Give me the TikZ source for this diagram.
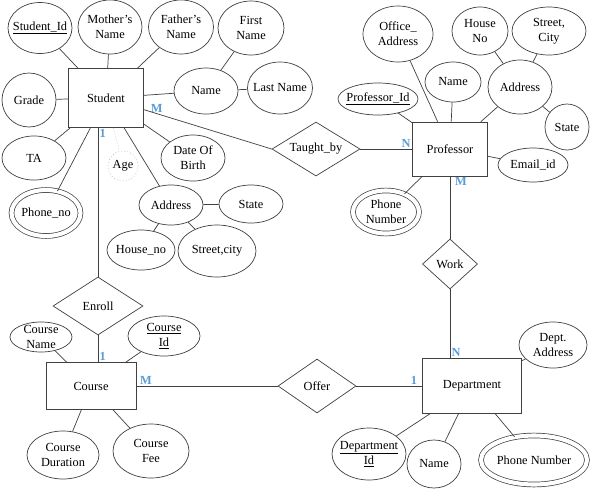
\documentclass[tikz,border=0pt]{standalone}
\usepackage{fontspec}
\setmainfont{Liberation Serif}
\usetikzlibrary{shapes.geometric}
\definecolor{cardblue}{HTML}{5B9BD5}
\definecolor{linegray}{HTML}{404040}

\newdimen\pxu
\pxu=0.85pt

\begin{document}
\begin{tikzpicture}[
    x = 0.85pt,
    y = -0.85pt,
    semithick,
    color = linegray,
    text = black,
    font = \fontsize{10.5}{13}\selectfont,
    entity/.style args = {#1/#2}{rectangle, draw, inner sep = 0pt,
        minimum width = #1\pxu, minimum height = #2\pxu},
    attr/.style args = {#1/#2}{ellipse, draw, inner sep = 0pt,
        minimum width = #1\pxu, minimum height = #2\pxu},
    multi/.style = {double, double distance = 3.5pt},
    derived/.style = {dotted, draw = gray!60},
    rel/.style args = {#1/#2}{diamond, draw, inner sep = 0pt, aspect = 1.5,
        minimum width = #1\pxu, minimum height = #2\pxu},
    card/.style = {text = cardblue, font = \fontsize{10.5}{13}\selectfont\bfseries,
        inner sep = 1pt}
]

\useasboundingbox (0,0) rectangle (590,490);

% Entities
\node[entity=75/59] (stu)  at (106,98)  {Student};
\node[entity=75/54] (prof) at (450,149) {Professor};
\node[entity=90/47] (crs)  at (91,386)  {Course};
\node[entity=99/55] (dep)  at (472,386) {Department};

% Relationships
\node[rel=88/54] (tb)  at (316,149) {Taught\_by};
\node[rel=90/58] (enr) at (98,306)  {Enroll};
\node[rel=55/50] (wrk) at (450,264) {Work};
\node[rel=78/54] (off) at (317,386) {Offer};

% Student attributes
\node[attr=64/51, label={center:\underline{Student\_Id}}]            (sid)    at (40,28)   {};
\node[attr=64/54, label={[align=center]center:Mother's\\Name}]       (smn)    at (110,27)  {};
\node[attr=65/54, label={[align=center]center:Father's\\Name}]       (sfn)    at (181,27)  {};
\node[attr=66/54, label={[align=center]center:First\\Name}]          (sfirst) at (251,28)  {};
\node[attr=64/46, label={center:Name}]                               (sname)  at (206,91)  {};
\node[attr=65/52, label={center:Last Name}]                          (slast)  at (280,88)  {};
\node[attr=54/54, label={center:Grade}]                              (sgr)    at (29,100)  {};
\node[attr=64/44, label={center:TA}]                                 (sta)    at (34,158)  {};
\node[attr=69/46, multi, label={center:Phone\_no}]                   (sph)    at (46,213)  {};
\node[attr=30/30, derived, label={center:Age}]                       (sage)   at (123,166) {};
\node[attr=64/46, label={[align=center]center:Date Of\\Birth}]       (sdob)   at (193,158) {};
\node[attr=64/40, label={center:Address}]                            (sadd)   at (171,205) {};
\node[attr=64/38, label={center:State}]                              (sst)    at (251,204) {};
\node[attr=68/40, label={center:House\_no}]                          (shn)    at (141,250) {};
\node[attr=78/52, label={center:Street,city}]                        (ssc)    at (217,251) {};

% Course attributes
\node[attr=62/30, label={[align=center]center:Course\\Name}]         (ccn)  at (41,337)  {};
\node[attr=72/40, label={[align=center]center:\underline{Course}\\\underline{Id}}] (cid) at (164,336) {};
\node[attr=72/48, label={[align=center]center:Course\\Duration}]     (cdu)  at (63,455)  {};
\node[attr=76/54, label={[align=center]center:Course\\Fee}]          (cfee) at (151,451) {};

% Professor attributes
\node[attr=70/56, label={[align=center]center:Office\_\\Address}]    (poa)   at (398,34)  {};
\node[attr=56/48, label={[align=center]center:House\\No}]            (phn)   at (480,31)  {};
\node[attr=74/48, label={[align=center]center:Street,\\City}]        (psc)   at (549,31)  {};
\node[attr=56/40, label={center:Name}]                               (pname) at (453,82)  {};
\node[attr=64/54, label={center:Address}]                            (padd)  at (520,87)  {};
\node[attr=80/32, label={center:\underline{Professor\_Id}}]          (pid)   at (378,99)  {};
\node[attr=44/46, label={center:State}]                              (pst)   at (567,127) {};
\node[attr=70/34, label={center:Email\_id}]                          (pem)   at (533,165) {};
\node[attr=66/43, multi, label={[align=center]center:Phone\\Number}] (pph)   at (386,212) {};

% Department attributes
\node[attr=68/46, label={[align=center]center:Dept.\\Address}]       (dda)   at (553,345) {};
\node[attr=74/52, label={[align=center]center:\underline{Department}\\\underline{Id}}] (did) at (369,454) {};
\node[attr=54/48, label={center:Name}]                               (dname) at (434,464) {};
\node[attr=106/49, multi, label={center:Phone Number}]               (dph)   at (534,460) {};

% Attribute links
\draw (sid) -- (stu);
\draw (smn) -- (stu);
\draw (sfn) -- (stu);
\draw (sgr) -- (stu);
\draw (sta) -- (stu);
\draw (sph) -- (stu);
\draw (sdob) -- (stu);
\draw (sadd) -- (stu);
\draw (sname) -- (stu);
\draw (sfirst) -- (sname);
\draw (slast) -- (sname);
\draw (sadd) -- (sst);
\draw (sadd) -- (shn);
\draw (sadd) -- (ssc);
\draw[derived] (stu) -- (sage);

\draw (ccn) -- (crs);
\draw (cid) -- (crs);
\draw (cdu) -- (crs);
\draw (cfee) -- (crs);

\draw (poa) -- (prof);
\draw (pname) -- (prof);
\draw (padd) -- (prof);
\draw (pid) -- (prof);
\draw (pem) -- (prof);
\draw (pph) -- (prof);
\draw (padd) -- (phn);
\draw (padd) -- (psc);
\draw (padd) -- (pst);

\draw (dda) -- (dep);
\draw (did) -- (dep);
\draw (dname) -- (dep);
\draw (dph) -- (dep);

% Relationship links
\draw (stu) -- node[card, pos=0.1, above] {M} (tb.west);
\draw (tb) -- node[card, at end, above left] {N} (prof);

\draw (stu.south -| enr) -- node[card, at start, below right] {1} (enr.north);
\draw (enr.south) -- node[card, at end, above right] {1} (enr.south |- crs.north);

\draw (prof) -- node[card, at start, below right, xshift=3pt] {M} (wrk);
\draw (wrk.south) -- node[card, at end, above right] {N} (wrk.south |- dep.north);

\draw (crs) -- node[card, at start, above right, xshift=2pt] {M} (off);
\draw (off) -- node[card, at end, above left, xshift=-3pt] {1} (dep);

\end{tikzpicture}
\end{document}
